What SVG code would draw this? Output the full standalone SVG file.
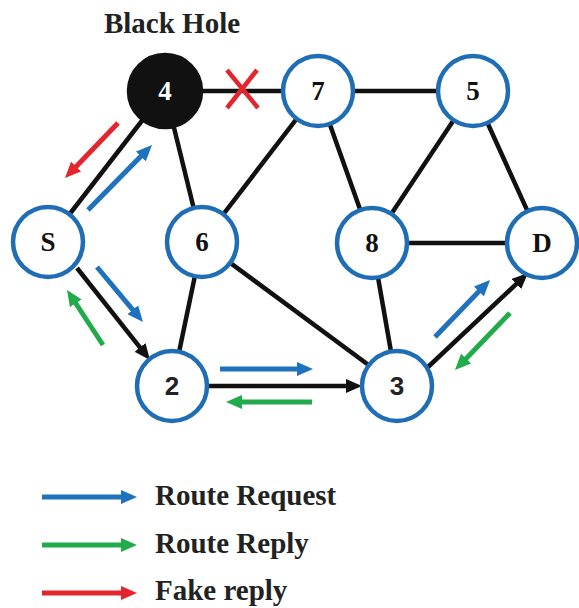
<svg xmlns="http://www.w3.org/2000/svg" width="579" height="608" viewBox="0 0 579 608">
<style>
.edge{stroke:#111;stroke-width:4.5;fill:none}
.node{fill:#fff;stroke:#1f6db5;stroke-width:4.5}
.lbl{font-family:"Liberation Serif","Times New Roman",serif;font-weight:bold;font-size:27px;text-anchor:middle;fill:#111}
.title{font-family:"Liberation Serif","Times New Roman",serif;font-weight:bold;font-size:29px;text-anchor:middle;fill:#222}
.lbl2{font-family:"Liberation Sans",Arial,sans-serif;font-weight:bold;font-size:26px;text-anchor:middle;fill:#222}
.leg{font-family:"Liberation Serif","Times New Roman",serif;font-weight:bold;font-size:29px;fill:#222}
.req{stroke:#1f72bd;stroke-width:5;fill:none}
.rep{stroke:#22ab4a;stroke-width:5;fill:none}
.fake{stroke:#e3262d;stroke-width:5;fill:none}
</style>
<defs>
<marker id="mBlue" viewBox="0 0 16 14" markerWidth="16" markerHeight="14" markerUnits="userSpaceOnUse" refX="4" refY="7" orient="auto"><path d="M0,0 L16,7 L0,14 z" fill="#1f72bd"/></marker>
<marker id="mGreen" viewBox="0 0 16 14" markerWidth="16" markerHeight="14" markerUnits="userSpaceOnUse" refX="4" refY="7" orient="auto"><path d="M0,0 L16,7 L0,14 z" fill="#22ab4a"/></marker>
<marker id="mRed" viewBox="0 0 16 14" markerWidth="16" markerHeight="14" markerUnits="userSpaceOnUse" refX="4" refY="7" orient="auto"><path d="M0,0 L16,7 L0,14 z" fill="#e3262d"/></marker>
<marker id="mBlack" viewBox="0 0 16 14" markerWidth="16" markerHeight="14" markerUnits="userSpaceOnUse" refX="4" refY="7" orient="auto"><path d="M0,0 L16,7 L0,14 z" fill="#111"/></marker>
</defs>
<rect width="579" height="608" fill="#fff"/>
<g id="connectors">
<line class="edge" x1="165" y1="91" x2="318" y2="91"/>
<line class="edge" x1="318" y1="91" x2="473" y2="91"/>
<line class="edge" x1="165" y1="91" x2="48" y2="242"/>
<line class="edge" x1="165" y1="91" x2="202" y2="242"/>
<line class="edge" x1="318" y1="91" x2="202" y2="242"/>
<line class="edge" x1="318" y1="91" x2="372" y2="243"/>
<line class="edge" x1="473" y1="91" x2="372" y2="243"/>
<line class="edge" x1="473" y1="91" x2="542" y2="243"/>
<line class="edge" x1="372" y1="243" x2="542" y2="243"/>
<line class="edge" x1="372" y1="243" x2="397" y2="386"/>
<line class="edge" x1="202" y1="242" x2="172" y2="386"/>
<line class="edge" x1="202" y1="242" x2="397" y2="386"/>
<line class="edge" x1="77" y1="268" x2="142.5" y2="350.6" marker-end="url(#mBlack)"/>
<line class="edge" x1="208" y1="386" x2="350" y2="386" marker-end="url(#mBlack)"/>
<line class="edge" x1="428" y1="367" x2="519.3" y2="281.2" marker-end="url(#mBlack)"/>
<g id="fake-x" stroke="#e3262d" stroke-width="4.5">
<line x1="227" y1="70" x2="258" y2="108"/>
<line x1="257" y1="70" x2="227" y2="108"/>
</g>
<line class="req" x1="88" y1="210" x2="143.6" y2="153.6" marker-end="url(#mBlue)"/>
<line class="fake" x1="118" y1="123" x2="73.3" y2="169.4" marker-end="url(#mRed)"/>
<line class="req" x1="97" y1="267" x2="135.3" y2="312.8" marker-end="url(#mBlue)"/>
<line class="rep" x1="103" y1="345" x2="73.6" y2="300" marker-end="url(#mGreen)"/>
<line class="req" x1="220" y1="369" x2="301" y2="369" marker-end="url(#mBlue)"/>
<line class="rep" x1="312" y1="402" x2="238" y2="402" marker-end="url(#mGreen)"/>
<line class="req" x1="435" y1="337" x2="481.7" y2="288.6" marker-end="url(#mBlue)"/>
<line class="rep" x1="510" y1="313" x2="463.3" y2="361.4" marker-end="url(#mGreen)"/>
</g>
<text class="title" x="172" y="33">Black Hole</text>
<g id="node-4"><circle cx="165" cy="91" r="36" fill="#111" stroke="#111" stroke-width="4.5"/><text class="lbl" x="165" y="100" style="fill:#fff">4</text></g>
<g id="node-7"><circle class="node" cx="318" cy="91" r="35"/><text class="lbl" x="318" y="100">7</text></g>
<g id="node-5"><circle class="node" cx="473" cy="91" r="35"/><text class="lbl" x="473" y="100">5</text></g>
<g id="node-S"><circle class="node" cx="48" cy="242" r="35"/><text class="lbl" x="48" y="251">S</text></g>
<g id="node-6"><circle class="node" cx="202" cy="242" r="35"/><text class="lbl" x="202" y="251">6</text></g>
<g id="node-8"><circle class="node" cx="372" cy="243" r="35"/><text class="lbl" x="372" y="252">8</text></g>
<g id="node-D"><circle class="node" cx="542" cy="243" r="35"/><text class="lbl" x="542" y="252">D</text></g>
<g id="node-2"><circle class="node" cx="172" cy="386" r="35"/><text class="lbl2" x="172" y="395">2</text></g>
<g id="node-3"><circle class="node" cx="397" cy="386" r="35"/><text class="lbl2" x="397" y="395">3</text></g>
<g id="legend">
<line class="req" x1="42" y1="497" x2="125" y2="497" marker-end="url(#mBlue)"/>
<text class="leg" x="155" y="505">Route Request</text>
<line class="rep" x1="42" y1="545" x2="125" y2="545" marker-end="url(#mGreen)"/>
<text class="leg" x="155" y="553">Route Reply</text>
<line class="fake" x1="42" y1="593" x2="125" y2="593" marker-end="url(#mRed)"/>
<text class="leg" x="155" y="600">Fake reply</text>
</g>
</svg>
